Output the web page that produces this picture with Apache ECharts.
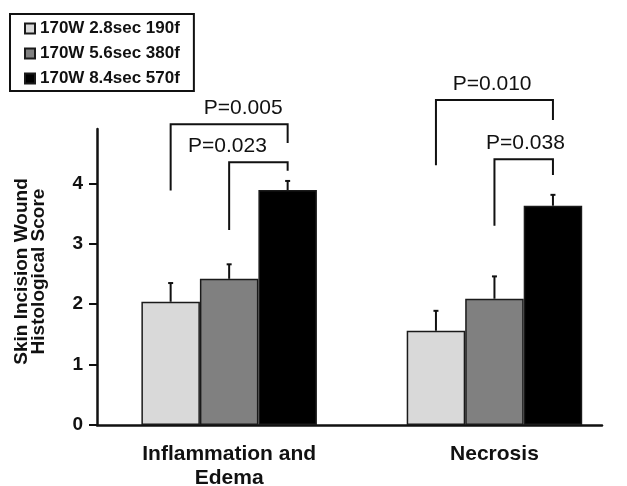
<!DOCTYPE html>
<html>
<head>
<meta charset="utf-8">
<script src="https://cdn.jsdelivr.net/npm/echarts@6/dist/echarts.min.js"></script>
<style>
html,body{margin:0;padding:0;background:#fff;}
#chart{width:627px;height:486px;}
</style>
</head>
<body>
<div id="chart"></div>
<script>
// data
var categories = ['Inflammation and\nEdema', 'Necrosis'];
var seriesNames = ['170W 2.8sec 190f', '170W 5.6sec 380f', '170W 8.4sec 570f'];
var lowDose = [2.04, 1.56];
var midDose = [2.42, 2.09];
var highDose = [3.89, 3.63];
// upper error (SD)
var lowErr = [0.31, 0.33];
var midErr = [0.24, 0.37];
var highErr = [0.15, 0.18];
var yTicks = [0, 1, 2, 3, 4];

// significance brackets: [category, from bar, to bar, left foot, top, right foot, label bar pos]
var pLabels = ['P=0.005', 'P=0.023', 'P=0.010', 'P=0.038'];
var brackets = [
	[0, 0, 2, 3.88, 4.98, 4.67, 1.24],
	[0, 1, 2, 3.23, 4.35, 4.21, 0.97],
	[1, 0, 2, 4.30, 5.38, 5.05, 0.96],
	[1, 1, 2, 3.30, 4.40, 4.14, 1.53]
];

var BAR_W = 58.5;
var FONT = '"Liberation Sans", Arial, sans-serif';
var colors = ['#d9d9d9', '#808080', '#000000'];

var values = [lowDose, midDose, highDose];
var errs = [lowErr, midErr, highErr];

var errData = [];
for (var s = 0; s < values.length; s++) {
	for (var c = 0; c < categories.length; c++) {
		errData.push([c, s, values[s][c], values[s][c] + errs[s][c]]);
	}
}

function renderErr(params, api) {
	var cat = api.value(0), b = api.value(1);
	var lo = api.coord([cat, api.value(2)]);
	var hi = api.coord([cat, api.value(3)]);
	var x = lo[0] + (b - 1) * BAR_W;
	return {
		type: 'group',
		children: [
			{type: 'line', shape: {x1: x, y1: lo[1], x2: x, y2: hi[1]}, style: {stroke: '#111', lineWidth: 2}},
			{type: 'line', shape: {x1: x - 2.5, y1: hi[1], x2: x + 2.5, y2: hi[1]}, style: {stroke: '#111', lineWidth: 2}}
		]
	};
}

function renderBracket(params, api) {
	var cat = api.value(0);
	var pl = api.coord([cat, api.value(3)]);
	var pt = api.coord([cat, api.value(4)]);
	var pr = api.coord([cat, api.value(5)]);
	var cx = pl[0];
	var x0 = cx + (api.value(1) - 1) * BAR_W;
	var x1 = cx + (api.value(2) - 1) * BAR_W;
	var tx = cx + (api.value(6) - 1) * BAR_W;
	return {
		type: 'group',
		children: [
			{type: 'polyline', shape: {points: [[x0, pl[1]], [x0, pt[1]], [x1, pt[1]], [x1, pr[1]]]},
				style: {stroke: '#111', lineWidth: 2, fill: null}},
			{type: 'text', x: tx, y: pt[1] - 16,
				style: {text: pLabels[params.dataIndex], fill: '#111', font: '21px ' + FONT, align: 'center', verticalAlign: 'middle'}}
		]
	};
}

var chart = echarts.init(document.getElementById('chart'));

var series = [];
for (var i = 0; i < seriesNames.length; i++) {
	series.push({
		name: seriesNames[i],
		type: 'bar',
		xAxisIndex: 1,
		yAxisIndex: 1,
		data: values[i],
		barWidth: BAR_W,
		barGap: '0%',
		itemStyle: {color: colors[i], borderColor: '#1a1a1a', borderWidth: 1.5},
		z: 2
	});
}
series.push({
	type: 'custom',
	xAxisIndex: 1,
	yAxisIndex: 1,
	renderItem: renderErr,
	data: errData,
	encode: {x: 0, y: 3},
	z: 3
});
series.push({
	type: 'custom',
	xAxisIndex: 1,
	yAxisIndex: 1,
	renderItem: renderBracket,
	data: brackets,
	encode: {x: 0, y: 4},
	clip: false,
	z: 4
});

var option = {
	backgroundColor: '#fff',
	animation: false,
	color: colors,
	legend: {
		orient: 'vertical',
		left: 10,
		top: 14,
		padding: [6, 14, 4, 14],
		borderColor: '#111',
		borderWidth: 2,
		itemWidth: 10,
		itemHeight: 10,
		itemGap: 8,
		icon: 'rect',
		data: seriesNames,
		textStyle: {fontFamily: FONT, fontSize: 17, fontWeight: 'bold', color: '#111'}
	},
	grid: [
		{left: 97, right: 25, top: 129, bottom: 61, outerBoundsMode: 'none'},
		{left: 96.5, width: 530.6, top: 129, bottom: 61, outerBoundsMode: 'none'}
	],
	xAxis: [
		{
			type: 'category',
			gridIndex: 0,
			data: categories,
			axisLine: {lineStyle: {color: '#111', width: 2.5}},
			axisTick: {length: 6, lineStyle: {color: '#111', width: 2.5}},
			axisLabel: {show: false}
		},
		{
			type: 'category',
			gridIndex: 1,
			data: categories,
			axisLine: {show: false},
			axisTick: {show: false},
			axisLabel: {fontFamily: FONT, fontSize: 21, fontWeight: 'bold', color: '#111', margin: 17, lineHeight: 24}
		}
	],
	yAxis: [
		{
			type: 'value',
			gridIndex: 0,
			min: 0,
			max: 4.9,
			interval: 1,
			name: 'Skin Incision Wound\nHistological Score',
			nameLocation: 'middle',
			nameRotate: 90,
			nameGap: 50,
			nameTextStyle: {fontFamily: FONT, fontSize: 19, fontWeight: 'bold', color: '#111', lineHeight: 17, padding: [0, 0, 0, 11]},
			splitLine: {show: false},
			axisLine: {show: true, lineStyle: {color: '#111', width: 2.5}},
			axisTick: {show: true, length: 8, customValues: yTicks, lineStyle: {color: '#111', width: 2}},
			axisLabel: {customValues: yTicks, fontFamily: FONT, fontSize: 19, fontWeight: 'bold', color: '#111', margin: 14}
		},
		{
			type: 'value',
			gridIndex: 1,
			min: 0,
			max: 4.9,
			show: false
		}
	],
	series: series
};
chart.setOption(option);
</script>
</body>
</html>
